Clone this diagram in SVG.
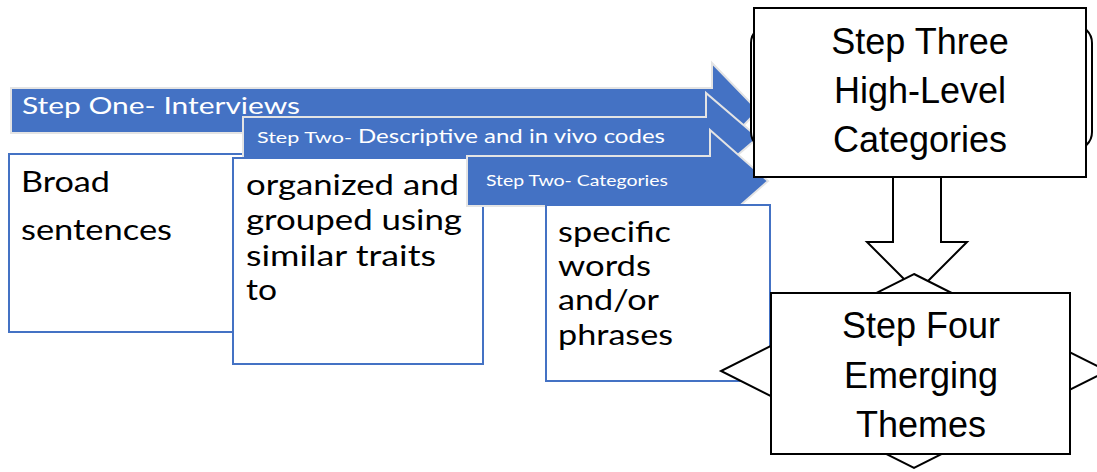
<svg xmlns="http://www.w3.org/2000/svg" width="1097" height="472" viewBox="0 0 1097 472">
<style>
.arrow{fill:#4472C4;stroke:#e4e4e4;stroke-width:2}
.box{fill:#fff;stroke:#4472C4;stroke-width:2}
.blk{fill:#fff;stroke:#000;stroke-width:2}
.lbl{font-family:Lato,"Open Sans",sans-serif;fill:#fff}
.txt{font-family:Lato,"Open Sans",sans-serif;fill:#000;font-size:28px}
.big{font-family:"Liberation Sans",Arial,sans-serif;fill:#000;font-size:36px;text-anchor:middle}
</style>
<rect width="1097" height="472" fill="#fff"/>
<g id="step-one">
<path class="arrow" d="M11,88 H712 V63 L758,110.5 L712,158 V133 H11 Z"/>
<text class="lbl" x="22" y="114" font-size="24" textLength="278" lengthAdjust="spacingAndGlyphs">Step One- Interviews</text>
</g>
<g id="broad-box">
<rect class="box" x="9" y="154" width="462" height="178"/>
<text class="txt" x="21" y="192" textLength="89" lengthAdjust="spacingAndGlyphs">Broad</text>
<text class="txt" x="21" y="240" textLength="151" lengthAdjust="spacingAndGlyphs">sentences</text>
</g>
<g id="step-two-codes">
<path class="arrow" d="M243,117 H706 V93 L758,137.5 L706,182 V158 H243 Z"/>
<text class="lbl" x="257" y="143" font-size="16" textLength="95" lengthAdjust="spacingAndGlyphs">Step Two-</text>
<text class="lbl" x="358" y="143" font-size="19" textLength="307" lengthAdjust="spacingAndGlyphs">Descriptive and in vivo codes</text>
</g>
<g id="organized-box">
<rect class="box" x="233" y="158" width="250" height="206"/>
<text class="txt" x="246" y="195" textLength="213" lengthAdjust="spacingAndGlyphs">organized and</text>
<text class="txt" x="246" y="230" textLength="216" lengthAdjust="spacingAndGlyphs">grouped using</text>
<text class="txt" x="246" y="266" textLength="190" lengthAdjust="spacingAndGlyphs">similar traits</text>
<text class="txt" x="246" y="300" textLength="31" lengthAdjust="spacingAndGlyphs">to</text>
</g>
<g id="step-two-categories">
<path class="arrow" d="M467,156 H710 V130 L768,181 L710,232 V206 H467 Z"/>
<text class="lbl" x="486" y="186" font-size="16" textLength="182" lengthAdjust="spacingAndGlyphs">Step Two- Categories</text>
</g>
<g id="specific-box">
<rect class="box" x="546" y="205" width="224" height="176"/>
<text class="txt" x="558" y="242" textLength="113" lengthAdjust="spacingAndGlyphs">specific</text>
<text class="txt" x="558" y="276" textLength="93" lengthAdjust="spacingAndGlyphs">words</text>
<text class="txt" x="558" y="310" textLength="101" lengthAdjust="spacingAndGlyphs">and/or</text>
<text class="txt" x="558" y="345" textLength="115" lengthAdjust="spacingAndGlyphs">phrases</text>
</g>
<g id="connectors">
<path class="blk" d="M893,177 V242 H867 L917,292 L967,242 H941 V177 Z"/>
</g>
<g id="step-three">
<rect class="blk" x="751" y="25" width="341" height="125" rx="18"/>
<rect class="blk" x="754" y="8" width="332" height="169"/>
<text class="big" x="920" y="54">Step Three</text>
<text class="big" x="920" y="103">High-Level</text>
<text class="big" x="920" y="152">Categories</text>
</g>
<g id="step-four">
<polygon class="blk" points="914,274 1107,371 914,468 721,371"/>
<rect class="blk" x="771" y="293" width="299" height="161"/>
<text class="big" x="921" y="338">Step Four</text>
<text class="big" x="921" y="388">Emerging</text>
<text class="big" x="921" y="437">Themes</text>
</g>
</svg>
